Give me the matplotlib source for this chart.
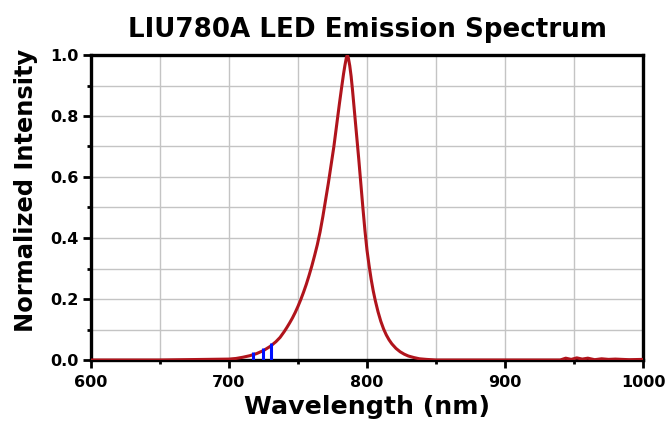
import matplotlib
matplotlib.use('Agg')
import matplotlib.pyplot as plt
from matplotlib.ticker import MultipleLocator

plt.rcParams['font.family'] = ['DejaVu Sans']
plt.rcParams['font.weight'] = 'bold'

# spectrum
wavelength = [600, 650, 700, 705, 710, 715, 720, 725, 730, 734, 737, 740, 742, 744,
              746, 748, 750, 752, 754, 756, 758, 760, 762, 764, 766, 768, 770, 772,
              774, 776, 778, 780, 781.5, 783, 784, 785, 785.7, 786.5, 787.5, 788.5,
              789.5, 791, 792.5, 794, 795.5, 797, 798.5, 800, 801.5, 803, 804.5,
              806, 808, 810, 812, 814, 816, 818, 821, 824, 827, 830, 834, 838, 843,
              850, 900, 940, 944, 948, 952, 956, 960, 965, 970, 975, 980, 990, 1000]
intensity = [0, 0, 0.003, 0.005, 0.009, 0.014, 0.021, 0.031, 0.045, 0.06, 0.074,
             0.093, 0.107, 0.122, 0.138, 0.156, 0.176, 0.198, 0.222, 0.248, 0.277,
             0.308, 0.342, 0.378, 0.42, 0.47, 0.525, 0.58, 0.64, 0.70, 0.77, 0.84,
             0.89, 0.938, 0.966, 0.99, 1.0, 0.99, 0.965, 0.93, 0.885, 0.81, 0.735,
             0.66, 0.58, 0.5, 0.425, 0.36, 0.31, 0.265, 0.227, 0.195, 0.158, 0.127,
             0.102, 0.082, 0.066, 0.053, 0.038, 0.027, 0.019, 0.013, 0.008, 0.004,
             0.002, 0, 0, 0, 0.006, 0.002, 0.007, 0.003, 0.006, 0.001, 0.004,
             0.002, 0.003, 0.001, 0.002]

# small blue marks near the left foot
mark_x = [717.4, 724.6, 730.7]
mark_top = [0.025, 0.038, 0.055]

fig = plt.figure(figsize=(6.7, 4.21), dpi=100)
ax = fig.add_axes([91 / 670, 1 - 360 / 421, 552 / 670, 305 / 421])

ax.plot(wavelength, intensity, color='#b0141c', lw=2.2, zorder=3,
        solid_joinstyle='round')
ax.vlines(mark_x, 0, mark_top, color='#0010ff', lw=2.2, zorder=4)

ax.set_xlim(600, 1000)
ax.set_ylim(0, 1.0)
ax.xaxis.set_major_locator(MultipleLocator(100))
ax.xaxis.set_minor_locator(MultipleLocator(50))
ax.yaxis.set_major_locator(MultipleLocator(0.2))
ax.yaxis.set_minor_locator(MultipleLocator(0.1))
ax.yaxis.set_major_formatter(plt.FormatStrFormatter('%.1f'))

ax.grid(True, which='both', color='#c4c4c4', lw=1.0, zorder=0)
ax.set_axisbelow(True)

for s in ax.spines.values():
    s.set_linewidth(2.4)
    s.set_color('black')

ax.tick_params(axis='both', which='major', direction='out', length=6, width=2,
               labelsize=11.5, pad=3)
ax.tick_params(axis='both', which='minor', direction='out', length=3, width=2)
ax.tick_params(axis='x', which='major', pad=5)
for lab in ax.get_xticklabels() + ax.get_yticklabels():
    lab.set_fontweight('bold')

ax.set_title('LIU780A LED Emission Spectrum', fontsize=18.8, fontweight='bold', pad=13)
fig.text(367 / 670, 7 / 421, 'Wavelength (nm)', ha='center', va='baseline',
         fontsize=18.2, fontweight='bold')
fig.text(26 / 670, 1 - 190 / 421, 'Normalized Intensity', ha='center', va='center',
         rotation=90, fontsize=17.4, fontweight='bold')

fig.savefig('out.png', dpi=100)
